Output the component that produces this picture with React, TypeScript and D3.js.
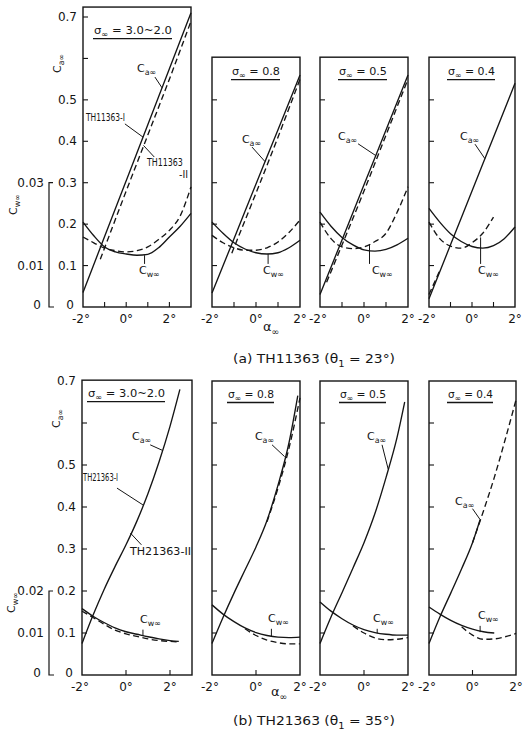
import * as d3 from "d3";

const FONT = "'DejaVu Sans', 'Liberation Sans', sans-serif";
const INK = "#151515";

// ---------- (a) TH11363 ----------
const sigmaA = ["3.0~2.0", "0.8", "0.5", "0.4"];
const sigmaB = ["3.0~2.0", "0.8", "0.5", "0.4"];

const a1CaAlpha = [-2, -1, 0, 1, 2, 3];
const a1Ca = [0.035, 0.17, 0.305, 0.44, 0.575, 0.71];
const a1Ca2Alpha = [-1.2, 0, 1, 2, 3];
const a1Ca2 = [0.115, 0.28, 0.415, 0.55, 0.69];
const a1CwAlpha = [-2, -1.5, -1, -0.5, 0, 0.5, 1, 1.5, 2, 2.5, 3];
const a1Cw = [0.0205, 0.0172, 0.0145, 0.0133, 0.0128, 0.0125, 0.0127, 0.0143, 0.0169, 0.0195, 0.0226];
const a1Cw2 = [0.0169, 0.0155, 0.0142, 0.0136, 0.0133, 0.0136, 0.0145, 0.0163, 0.0185, 0.022, 0.029];

const a2CaAlpha = [-2, -1, 0, 1, 2];
const a2Ca = [0.034, 0.165, 0.297, 0.428, 0.56];
const a2Ca2Alpha = [-1.1, 0, 1, 2];
const a2Ca2 = [0.13, 0.275, 0.41, 0.55];
const a2CwAlpha = [-2, -1.5, -1, -0.5, 0, 0.5, 1, 1.5, 2];
const a2Cw = [0.0205, 0.0178, 0.0155, 0.014, 0.0131, 0.0128, 0.0131, 0.0143, 0.0161];
const a2Cw2 = [0.0173, 0.0155, 0.0143, 0.0137, 0.0137, 0.0143, 0.0157, 0.018, 0.021];

const a3CaAlpha = [-2, -1, 0, 1, 2];
const a3Ca = [0.03, 0.162, 0.295, 0.427, 0.56];
const a3Ca2Alpha = [-1.7, 0, 1, 2];
const a3Ca2 = [0.06, 0.28, 0.415, 0.55];
const a3CwAlpha = [-2, -1.5, -1, -0.5, 0, 0.5, 1, 1.5, 2];
const a3Cw = [0.0229, 0.0195, 0.0168, 0.015, 0.0138, 0.0135, 0.0139, 0.015, 0.0166];
const a3Cw2 = [0.0205, 0.0165, 0.0145, 0.0141, 0.0145, 0.0158, 0.0178, 0.0228, 0.029];

const a4CaAlpha = [-2, -1, 0, 1, 2];
const a4Ca = [0.02, 0.15, 0.28, 0.41, 0.54];
const a4Ca2Alpha = [-2, -1.5];
const a4Ca2 = [0.03, 0.088];
const a4CwAlpha = [-2, -1.5, -1, -0.5, 0, 0.5, 1, 1.5, 2];
const a4Cw = [0.0238, 0.0205, 0.0177, 0.0158, 0.0146, 0.0142, 0.0148, 0.0165, 0.0193];
const a4Cw2Alpha = [-2, -1.5, -1, -0.5, 0, 0.5, 1];
const a4Cw2 = [0.0205, 0.0165, 0.0147, 0.0142, 0.0155, 0.0178, 0.0217];

// ---------- (b) TH21363 ----------
const b1CaAlpha = [-2, -1.5, -1, -0.5, 0, 0.5, 1, 1.5, 2, 2.45];
const b1Ca = [0.075, 0.142, 0.203, 0.258, 0.31, 0.367, 0.432, 0.507, 0.592, 0.68];
const b1CwAlpha = [-2, -1.5, -1, -0.5, 0, 0.5, 1, 1.5, 2, 2.4];
const b1Cw = [0.0158, 0.014, 0.0125, 0.0112, 0.0103, 0.0097, 0.0091, 0.0086, 0.0082, 0.008];
const b1Cw2 = [0.0152, 0.0137, 0.0121, 0.0107, 0.0098, 0.0092, 0.0086, 0.0082, 0.008, 0.0079];

const b2CaAlpha = [-2, -1.5, -1, -0.5, 0, 0.5, 1, 1.5, 1.9];
const b2Ca = [0.075, 0.137, 0.195, 0.25, 0.305, 0.368, 0.452, 0.553, 0.665];
const b2Ca2Alpha = [0.5, 1, 1.5, 2];
const b2Ca2 = [0.365, 0.445, 0.54, 0.66];
const b2CwAlpha = [-2, -1.5, -1, -0.5, 0, 0.5, 1, 1.5, 2];
const b2Cw = [0.0167, 0.0145, 0.0127, 0.0112, 0.0101, 0.0094, 0.009, 0.0089, 0.009];
const b2Cw2Alpha = [-0.5, 0, 0.5, 1, 1.5, 2];
const b2Cw2 = [0.011, 0.0094, 0.0083, 0.0077, 0.0074, 0.0074];

const b3CaAlpha = [-2, -1.5, -1, -0.5, 0, 0.5, 1, 1.5, 1.85];
const b3Ca = [0.075, 0.138, 0.196, 0.255, 0.315, 0.385, 0.47, 0.565, 0.65];
const b3CwAlpha = [-2, -1.5, -1, -0.5, 0, 0.5, 1, 1.5, 2];
const b3Cw = [0.0174, 0.0152, 0.0134, 0.0119, 0.0108, 0.0101, 0.0097, 0.0095, 0.0095];
const b3Cw2Alpha = [-0.5, 0, 0.5, 1, 1.5, 2];
const b3Cw2 = [0.0117, 0.01, 0.0088, 0.0084, 0.0085, 0.0089];

const b4CaAlpha = [-2, -1.5, -1, -0.5, 0, 0.35];
const b4Ca = [0.075, 0.138, 0.195, 0.253, 0.315, 0.37];
const b4Ca2Alpha = [0, 0.5, 1, 1.5, 2];
const b4Ca2 = [0.315, 0.39, 0.47, 0.56, 0.655];
const b4CwAlpha = [-2, -1.5, -1, -0.5, 0, 0.5, 1];
const b4Cw = [0.0162, 0.0145, 0.013, 0.0118, 0.0109, 0.0103, 0.01];
const b4Cw2Alpha = [-0.5, 0, 0.5, 1, 1.5, 2];
const b4Cw2 = [0.0115, 0.0095, 0.0085, 0.0086, 0.0091, 0.0099];

// ---------- axes ----------
const caTickLabels = [0, 0.1, 0.2, 0.3, 0.4, 0.5, 0.7];
const cwTickLabelsA = [0, 0.01, 0.03];
const cwTickLabelsB = [0, 0.01, 0.02];
const alphaTickLabels = [-2, 0, 2];
const captionA = { tag: "(a)", name: "TH11363", theta: "23°" };
const captionB = { tag: "(b)", name: "TH21363", theta: "35°" };

type Series = { alpha: number[]; values: number[]; dashed?: boolean; cw?: boolean };
type Note = { main: string; sub?: string; size?: number; len?: number; at: [number, number]; lead?: [number, number][] };
type PanelDef = {
  row: number;
  xDomain: [number, number];
  xRange: [number, number];
  top: number;
  sigma: string;
  sigmaX: number;
  sigmaDy: number;
  sigmaLen: number;
  xTicks: number[];
  yTicks: number[];
  series: Series[];
  notes: Note[];
};

const rows = [
  { y: d3.scaleLinear().domain([0, 0.7]).range([307, 17]), xLabelY: 323, alphaX: 263, alphaY: 331, captionY: 363, caY: 63, cwY: 205, cwX: 17, cwTicks: cwTickLabelsA, cwTop: 0.03, caption: captionA },
  { y: d3.scaleLinear().domain([0, 0.7]).range([675, 381]), xLabelY: 691, alphaX: 271, alphaY: 696, captionY: 725, caY: 418, cwY: 603, cwX: 15, cwTicks: cwTickLabelsB, cwTop: 0.02, caption: captionB },
];

const ticks = (from: number, to: number) => d3.range(from, to + 0.001, 0.1);

const panels: PanelDef[] = [
  {
    row: 0, xDomain: [-2, 3], xRange: [83, 191], top: 0.724, sigma: sigmaA[0], sigmaX: 94, sigmaDy: 27, sigmaLen: 78,
    xTicks: [-1, 0, 1, 2], yTicks: ticks(0.1, 0.7),
    series: [
      { alpha: a1CaAlpha, values: a1Ca },
      { alpha: a1Ca2Alpha, values: a1Ca2, dashed: true },
      { alpha: a1CwAlpha, values: a1Cw, cw: true },
      { alpha: a1CwAlpha, values: a1Cw2, cw: true, dashed: true },
    ],
    notes: [
      { main: "C", sub: "a∞", at: [0.5, 0.567], lead: [[1.33, 0.555], [1.66, 0.529]] },
      { main: "TH11363-I", size: 10, len: 39, at: [-1.86, 0.449], lead: [[-0.06, 0.442], [0.78, 0.41]] },
      { main: "TH11363", size: 10, len: 36, at: [0.96, 0.34], lead: [[0.8, 0.39], [1.3, 0.362]] },
      { main: "-II", size: 10, len: 9, at: [2.45, 0.312] },
      { main: "C", sub: "w∞", at: [0.59, 0.08], lead: [[0.85, 0.125], [0.85, 0.104]] },
    ],
  },
  {
    row: 0, xDomain: [-2, 2], xRange: [212, 300], top: 0.603, sigma: sigmaA[1], sigmaX: 232, sigmaDy: 18, sigmaLen: 48,
    xTicks: [-1, 0, 1], yTicks: ticks(0.1, 0.5),
    series: [
      { alpha: a2CaAlpha, values: a2Ca },
      { alpha: a2Ca2Alpha, values: a2Ca2, dashed: true },
      { alpha: a2CwAlpha, values: a2Cw, cw: true },
      { alpha: a2CwAlpha, values: a2Cw2, cw: true, dashed: true },
    ],
    notes: [
      { main: "C", sub: "a∞", at: [-0.64, 0.396], lead: [[-0.18, 0.386], [0.41, 0.351]] },
      { main: "C", sub: "w∞", at: [0.32, 0.08], lead: [[0.55, 0.128], [0.55, 0.104]] },
    ],
  },
  {
    row: 0, xDomain: [-2, 2], xRange: [320, 408], top: 0.603, sigma: sigmaA[2], sigmaX: 339, sigmaDy: 18, sigmaLen: 48,
    xTicks: [-1, 0, 1], yTicks: ticks(0.1, 0.5),
    series: [
      { alpha: a3CaAlpha, values: a3Ca },
      { alpha: a3Ca2Alpha, values: a3Ca2, dashed: true },
      { alpha: a3CwAlpha, values: a3Cw, cw: true },
      { alpha: a3CwAlpha, values: a3Cw2, cw: true, dashed: true },
    ],
    notes: [
      { main: "C", sub: "a∞", at: [-1.18, 0.403], lead: [[-0.27, 0.394], [0.55, 0.365]] },
      { main: "C", sub: "w∞", at: [0.36, 0.08], lead: [[0.25, 0.151], [0.25, 0.104]] },
    ],
  },
  {
    row: 0, xDomain: [-2, 2], xRange: [429, 515], top: 0.603, sigma: sigmaA[3], sigmaX: 448, sigmaDy: 18, sigmaLen: 47,
    xTicks: [-1, 0, 1], yTicks: ticks(0.1, 0.5),
    series: [
      { alpha: a4CaAlpha, values: a4Ca },
      { alpha: a4Ca2Alpha, values: a4Ca2, dashed: true },
      { alpha: a4CwAlpha, values: a4Cw, cw: true },
      { alpha: a4Cw2Alpha, values: a4Cw2, cw: true, dashed: true },
    ],
    notes: [
      { main: "C", sub: "a∞", at: [-0.56, 0.403], lead: [[0.14, 0.393], [0.6, 0.358]] },
      { main: "C", sub: "w∞", at: [0.28, 0.08], lead: [[0.4, 0.168], [0.4, 0.104]] },
    ],
  },
  {
    row: 1, xDomain: [-2, 3], xRange: [82, 192], top: 0.702, sigma: sigmaB[0], sigmaX: 88, sigmaDy: 17, sigmaLen: 77,
    xTicks: [0, 2], yTicks: ticks(0.1, 0.6),
    series: [
      { alpha: b1CaAlpha, values: b1Ca },
      { alpha: b1CwAlpha, values: b1Cw, cw: true },
      { alpha: b1CwAlpha, values: b1Cw2, cw: true, dashed: true },
    ],
    notes: [
      { main: "C", sub: "a∞", at: [0.27, 0.56], lead: [[1.1, 0.548], [1.65, 0.535]] },
      { main: "TH21363-I", size: 10, len: 35, at: [-1.95, 0.462], lead: [[-0.41, 0.445], [0.77, 0.405]] },
      { main: "TH21363-II", size: 10, len: 61, at: [0.18, 0.286], lead: [[0.7, 0.31], [0.2, 0.338]] },
      { main: "C", sub: "w∞", at: [0.64, 0.124], lead: [[0.77, 0.108], [0.77, 0.093]] },
    ],
  },
  {
    row: 1, xDomain: [-2, 2], xRange: [212, 300], top: 0.7, sigma: sigmaB[1], sigmaX: 228, sigmaDy: 17, sigmaLen: 46,
    xTicks: [0], yTicks: ticks(0.1, 0.6),
    series: [
      { alpha: b2CaAlpha, values: b2Ca },
      { alpha: b2Ca2Alpha, values: b2Ca2, dashed: true },
      { alpha: b2CwAlpha, values: b2Cw, cw: true },
      { alpha: b2Cw2Alpha, values: b2Cw2, cw: true, dashed: true },
    ],
    notes: [
      { main: "C", sub: "a∞", at: [-0.05, 0.56], lead: [[0.73, 0.548], [1.3, 0.52]] },
      { main: "C", sub: "w∞", at: [0.55, 0.126], lead: [[0.7, 0.11], [0.7, 0.091]] },
    ],
  },
  {
    row: 1, xDomain: [-2, 2], xRange: [320, 408], top: 0.7, sigma: sigmaB[2], sigmaX: 340, sigmaDy: 17, sigmaLen: 46,
    xTicks: [0], yTicks: ticks(0.1, 0.6),
    series: [
      { alpha: b3CaAlpha, values: b3Ca },
      { alpha: b3CwAlpha, values: b3Cw, cw: true },
      { alpha: b3Cw2Alpha, values: b3Cw2, cw: true, dashed: true },
    ],
    notes: [
      { main: "C", sub: "a∞", at: [0.14, 0.56], lead: [[0.82, 0.548], [1.1, 0.49]] },
      { main: "C", sub: "w∞", at: [0.41, 0.126], lead: [[0.6, 0.11], [0.6, 0.099]] },
    ],
  },
  {
    row: 1, xDomain: [-2, 2], xRange: [429, 516], top: 0.7, sigma: sigmaB[3], sigmaX: 448, sigmaDy: 17, sigmaLen: 45,
    xTicks: [0], yTicks: ticks(0.1, 0.6),
    series: [
      { alpha: b4CaAlpha, values: b4Ca },
      { alpha: b4Ca2Alpha, values: b4Ca2, dashed: true },
      { alpha: b4CwAlpha, values: b4Cw, cw: true },
      { alpha: b4Cw2Alpha, values: b4Cw2, cw: true, dashed: true },
    ],
    notes: [
      { main: "C", sub: "a∞", at: [-0.8, 0.405], lead: [[0.0, 0.396], [0.35, 0.37]] },
      { main: "C", sub: "w∞", at: [0.25, 0.133], lead: [[0.35, 0.117], [0.35, 0.102]] },
    ],
  },
];

function SubText({ x, y, main, sub, tail, size = 11, anchor = "start", len, transform }: any) {
  return (
    <text x={x} y={y} fontSize={size} textAnchor={anchor} fill={INK} fontFamily={FONT} transform={transform}
      textLength={len} lengthAdjust={len ? "spacingAndGlyphs" : undefined}>
      {main}
      {sub && <tspan dy={size * 0.3} fontSize={size * 0.72}>{sub}</tspan>}
      {tail && <tspan dy={-size * 0.3}>{tail}</tspan>}
    </text>
  );
}

function Panel({ p }: { p: PanelDef }) {
  const row = rows[p.row];
  const y = row.y;
  const yCw = y.copy().domain([0, 0.07]);
  const x = d3.scaleLinear().domain(p.xDomain).range(p.xRange);
  const x0 = x(p.xDomain[0]);
  const x1 = x(p.xDomain[1]);
  const yTop = y(p.top);
  const yBot = y(0);
  const line = (s: Series) =>
    d3.line<number>()
      .x((_, i) => x(s.alpha[i]))
      .y((v) => (s.cw ? yCw(v) : y(v)))
      .curve(d3.curveMonotoneX)(s.values) as string;
  const sigmaY = yTop + p.sigmaDy;
  return (
    <g>
      <rect x={x0} y={yTop} width={x1 - x0} height={yBot - yTop} fill="none" stroke={INK} strokeWidth={1.4} />
      {p.xTicks.map((t) => (
        <line key={"xt" + t} x1={x(t)} x2={x(t)} y1={yBot} y2={yBot - 5} stroke={INK} strokeWidth={1.1} />
      ))}
      {p.yTicks.map((t) => (
        <line key={"yt" + t} x1={x0} x2={x0 + 5} y1={y(t)} y2={y(t)} stroke={INK} strokeWidth={1.1} />
      ))}
      {alphaTickLabels.map((t) => (
        <text key={"xl" + t} x={x(t) - (t < 0 ? 2 : 0)} y={row.xLabelY} fontSize={12} textAnchor="middle" fill={INK} fontFamily={FONT}>
          {`${t}°`}
        </text>
      ))}
      {p.series.map((s, i) => (
        <path key={"s" + i} d={line(s)} fill="none" stroke={INK} strokeWidth={1.35}
          strokeDasharray={s.dashed ? "6,3.5" : undefined} />
      ))}
      <SubText x={p.sigmaX} y={sigmaY} main="σ" sub="∞" tail={` = ${p.sigma}`} size={11} len={p.sigmaLen} />
      <line x1={p.sigmaX - 1} x2={p.sigmaX + p.sigmaLen} y1={sigmaY + 4.5} y2={sigmaY + 4.5} stroke={INK} strokeWidth={1.3} />
      {p.notes.map((n, i) => (
        <g key={"n" + i}>
          {n.lead && (
            <path d={d3.line()(n.lead.map(([a, v]) => [x(a), y(v)]) as [number, number][]) as string}
              fill="none" stroke={INK} strokeWidth={1} />
          )}
          <SubText x={x(n.at[0])} y={y(n.at[1])} main={n.main} sub={n.sub} size={n.size ?? 11} len={n.len} />
        </g>
      ))}
    </g>
  );
}

function RowAxes({ r }: { r: number }) {
  const row = rows[r];
  const y = row.y;
  const yCw = y.copy().domain([0, 0.07]);
  const p = panels.find((d) => d.row === r)!;
  const left = p.xRange[0];
  const bx = 49;
  return (
    <g fontFamily={FONT} fill={INK}>
      {caTickLabels.map((t) => (
        <text key={"ca" + t} x={t === 0 ? left - 9 : left - 6} y={y(t) + (t === 0 ? 2 : 4)} fontSize={12} textAnchor="end">
          {t === 0 ? "0" : d3.format(".1f")(t)}
        </text>
      ))}
      {row.cwTicks.map((t) => (
        <text key={"cw" + t} x={t === 0 ? 41 : 44} y={yCw(t) + (t === 0 ? 2 : 4)} fontSize={12} textAnchor="end">
          {t === 0 ? "0" : d3.format(".2f")(t)}
        </text>
      ))}
      <path d={`M${bx + 4},${yCw(row.cwTop)} H${bx} V${yCw(0)} H${bx + 5}`} fill="none" stroke={INK} strokeWidth={1.2} />
      <SubText x={0} y={0} main="C" sub="a∞" size={11} transform={`translate(${left - 22},${row.caY + 10}) rotate(-90)`} />
      <SubText x={0} y={0} main="C" sub="w∞" size={11} transform={`translate(${row.cwX},${row.cwY + 10}) rotate(-90)`} />
      <SubText x={row.alphaX} y={row.alphaY} main="α" sub="∞" size={13} />
      <SubText x={233} y={row.captionY} main={`${row.caption.tag}  ${row.caption.name} (θ`} sub="1"
        tail={` = ${row.caption.theta})`} size={12.5} len={162} />
    </g>
  );
}

export default function App() {
  return (
    <svg width={527} height={733} style={{ position: "absolute", left: 0, top: 0, background: "#fff" }}>
      <rect width={527} height={733} fill="#fff" />
      {panels.map((p, i) => (
        <Panel key={i} p={p} />
      ))}
      <RowAxes r={0} />
      <RowAxes r={1} />
    </svg>
  );
}
